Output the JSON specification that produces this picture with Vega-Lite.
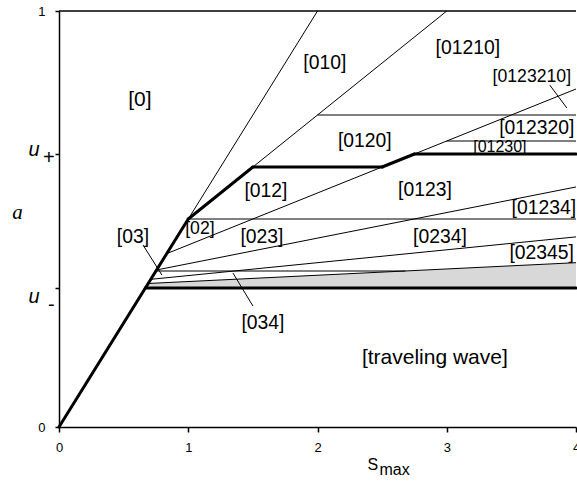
{
  "$schema": "https://vega.github.io/schema/vega-lite/v6.json",
  "width": 517,
  "height": 416,
  "autosize": "none",
  "padding": {"left": 59, "top": 11, "right": 1, "bottom": 57},
  "background": "white",
  "config": {"view": {"stroke": null}, "font": "Liberation Sans"},
  "datasets": {
    "shade": [
      {"x": 0.668, "y": 0.334, "y2": 0.334},
      {"x": 0.69, "y": 0.345, "y2": 0.334},
      {"x": 4, "y": 0.395, "y2": 0.334}
    ],
    "thin": [
      {"x": 1, "y": 0.5, "x2": 2, "y2": 1},
      {"x": 1.5, "y": 0.625, "x2": 3, "y2": 1},
      {"x": 2, "y": 0.75, "x2": 4, "y2": 0.75},
      {"x": 0.833, "y": 0.4167, "x2": 4, "y2": 0.8125},
      {"x": 1, "y": 0.5, "x2": 4, "y2": 0.5},
      {"x": 3, "y": 0.6875, "x2": 4, "y2": 0.6875},
      {"x": 0.755, "y": 0.3775, "x2": 4, "y2": 0.577},
      {"x": 0.75, "y": 0.375, "x2": 2.68, "y2": 0.375},
      {"x": 0.71, "y": 0.355, "x2": 4, "y2": 0.457},
      {"x": 0.69, "y": 0.345, "x2": 4, "y2": 0.395},
      {"x": 3.797, "y": 0.822, "x2": 3.929, "y2": 0.767},
      {"x": 0.65, "y": 0.4375, "x2": 0.797, "y2": 0.365},
      {"x": 1.5, "y": 0.291, "x2": 1.346, "y2": 0.37}
    ],
    "thick": [
      {"x": 0, "y": 0, "x2": 1, "y2": 0.5},
      {"x": 1, "y": 0.5, "x2": 1.5, "y2": 0.625},
      {"x": 1.5, "y": 0.625, "x2": 2.5, "y2": 0.625},
      {"x": 2.5, "y": 0.625, "x2": 2.75, "y2": 0.65625},
      {"x": 2.75, "y": 0.65625, "x2": 4, "y2": 0.65625},
      {"x": 0.668, "y": 0.334, "x2": 4, "y2": 0.334}
    ],
    "frame": [
      {"x": 0, "y": 1, "x2": 4}
    ],
    "labels": [
      {"x": 0.626, "y": 0.786, "text": "[0]", "group": "main"},
      {"x": 2.908, "y": 0.166, "text": "[traveling wave]", "group": "main"},
      {"x": 2.057, "y": 0.875, "text": "[010]", "group": "region"},
      {"x": 3.163, "y": 0.911, "text": "[01210]", "group": "region"},
      {"x": 3.697, "y": 0.719, "text": "[012320]", "group": "region"},
      {"x": 2.366, "y": 0.688, "text": "[0120]", "group": "region"},
      {"x": 1.601, "y": 0.567, "text": "[012]", "group": "region"},
      {"x": 2.831, "y": 0.57, "text": "[0123]", "group": "region"},
      {"x": 3.751, "y": 0.526, "text": "[01234]", "group": "region"},
      {"x": 1.57, "y": 0.457, "text": "[023]", "group": "region"},
      {"x": 0.572, "y": 0.457, "text": "[03]", "group": "region"},
      {"x": 2.947, "y": 0.457, "text": "[0234]", "group": "region"},
      {"x": 3.735, "y": 0.418, "text": "[02345]", "group": "region"},
      {"x": 1.578, "y": 0.25, "text": "[034]", "group": "region"},
      {"x": 3.658, "y": 0.841, "text": "[0123210]", "group": "minor"},
      {"x": 1.09, "y": 0.476, "text": "[02]", "group": "minor"},
      {"x": 3.411, "y": 0.673, "text": "[01230]", "group": "tiny"}
    ]
  },
  "encoding": {
    "x": {
      "field": "x",
      "type": "quantitative",
      "scale": {"domain": [0, 4], "nice": false, "zero": false},
      "axis": {
        "values": [0, 1, 2, 3, 4],
        "format": "d",
        "grid": false,
        "domainColor": "black",
        "domainWidth": 1.5,
        "tickColor": "black",
        "tickWidth": 1.5,
        "tickSize": 5,
        "labelFontSize": 13,
        "labelColor": "black",
        "labelPadding": 9,
        "labelFlush": false,
        "title": ["S", "\u2800max"],
        "titleFontSize": 16,
        "titleFontWeight": "normal",
        "titleFontStyle": "normal",
        "titleLineHeight": 5,
        "titleColor": "black",
        "titleX": 308,
        "titleY": 29,
        "titleAlign": "left",
        "titleBaseline": "top"
      }
    },
    "y": {
      "field": "y",
      "type": "quantitative",
      "scale": {"domain": [0, 1], "nice": false, "zero": false},
      "axis": {
        "values": [0, 0.334, 0.65625, 1],
        "labelExpr": "datum.value == 0 ? '0' : datum.value == 1 ? '1' : datum.value < 0.5 ? ['u\u2800', '-'] : ['u\u2800', '+']",
        "grid": false,
        "domainColor": "black",
        "domainWidth": 1.5,
        "tickColor": "black",
        "tickWidth": 1.5,
        "tickSize": 4,
        "labelColor": "black",
        "labelPadding": {"condition": {"test": "datum.value > 0.1 && datum.value < 0.9", "value": 1}, "value": 10},
        "labelBaseline": "middle",
        "labelLineHeight": 8,
        "labelOffset": {"condition": [{"test": "datum.value > 0.1 && datum.value < 0.5", "value": 8}, {"test": "datum.value > 0.5 && datum.value < 0.9", "value": -5}], "value": 0},
        "labelFontSize": {"condition": {"test": "datum.value > 0.1 && datum.value < 0.9", "value": 20}, "value": 13},
        "labelFontStyle": {"condition": {"test": "datum.value > 0.1 && datum.value < 0.9", "value": "italic"}, "value": "normal"},
        "title": "a",
        "titleFont": "Liberation Serif",
        "titleFontSize": 21,
        "titleFontWeight": "normal",
        "titleFontStyle": "italic",
        "titleColor": "black",
        "titleAngle": 0,
        "titleX": -42,
        "titleY": 201,
        "titleAlign": "center",
        "titleBaseline": "middle"
      }
    }
  },
  "layer": [
    {
      "data": {"name": "shade"},
      "mark": {"type": "area", "color": "#d8d8d8", "opacity": 1},
      "encoding": {"y2": {"field": "y2"}}
    },
    {
      "data": {"name": "thin"},
      "mark": {"type": "rule", "color": "black", "strokeWidth": 1},
      "encoding": {"x2": {"field": "x2"}, "y2": {"field": "y2"}}
    },
    {
      "data": {"name": "thick"},
      "mark": {"type": "rule", "color": "black", "strokeWidth": 3, "strokeCap": "round"},
      "encoding": {"x2": {"field": "x2"}, "y2": {"field": "y2"}}
    },
    {
      "data": {"name": "frame"},
      "mark": {"type": "rule", "color": "black", "strokeWidth": 1.5},
      "encoding": {"x2": {"field": "x2"}}
    },
    {
      "data": {"name": "labels"},
      "mark": {"type": "text", "align": "center", "baseline": "middle", "color": "black", "font": "Liberation Sans"},
      "encoding": {
        "text": {"field": "text"},
        "size": {
          "field": "group",
          "type": "nominal",
          "scale": {"domain": ["main", "region", "minor", "tiny"], "range": [21, 16, 14, 12]},
          "legend": null
        }
      }
    }
  ]
}
